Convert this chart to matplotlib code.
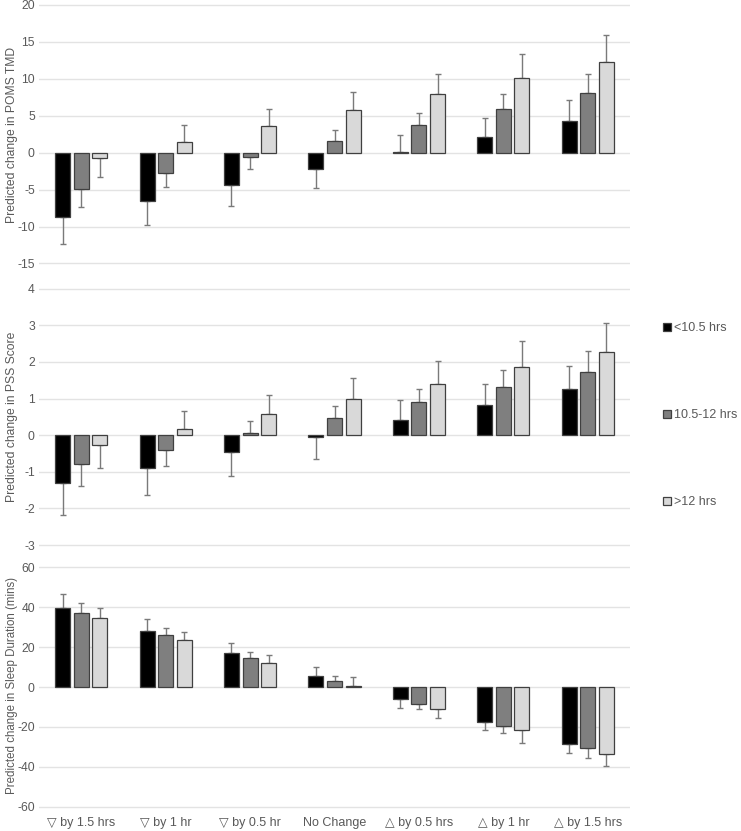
import numpy as np
import matplotlib
matplotlib.use("Agg")
import matplotlib.pyplot as plt
from matplotlib.patches import Patch

plt.rcParams['font.family'] = ['Liberation Sans', 'DejaVu Sans']
plt.rcParams['axes.unicode_minus'] = False

categories = ["\u25bd by 1.5 hrs", "\u25bd by 1 hr", "\u25bd by 0.5 hr", "No Change",
              "\u25b3 by 0.5 hrs", "\u25b3 by 1 hr", "\u25b3 by 1.5 hrs"]
series_names = ["<10.5 hrs", "10.5-12 hrs", ">12 hrs"]

# POMS TMD
poms_short = [-8.76, -6.55, -4.38, -2.26, 0.1, 2.17, 4.33]
poms_mid = [-4.92, -2.75, -0.54, 1.58, 3.79, 5.96, 8.13]
poms_long = [-0.72, 1.49, 3.66, 5.82, 7.95, 10.11, 12.33]
poms_short_err = [3.61, 3.25, 2.80, 2.48, 2.29, 2.57, 2.76]
poms_mid_err = [2.39, 1.85, 1.63, 1.54, 1.58, 2.03, 2.57]
poms_long_err = [2.53, 2.30, 2.30, 2.44, 2.75, 3.19, 3.57]

# PSS
pss_short = [-1.31, -0.89, -0.47, -0.04, 0.41, 0.82, 1.26]
pss_mid = [-0.80, -0.40, 0.055, 0.46, 0.90, 1.31, 1.74]
pss_long = [-0.28, 0.16, 0.57, 1.00, 1.41, 1.85, 2.27]
pss_short_err = [0.87, 0.74, 0.64, 0.61, 0.54, 0.57, 0.62]
pss_mid_err = [0.58, 0.44, 0.335, 0.33, 0.35, 0.47, 0.55]
pss_long_err = [0.61, 0.51, 0.52, 0.55, 0.63, 0.71, 0.80]

# Sleep duration (mins)
sleep_short = [39.8, 28.1, 17.2, 5.7, -6.0, -17.5, -28.4]
sleep_mid = [37.3, 26.1, 14.5, 3.0, -8.3, -19.4, -30.7]
sleep_long = [34.8, 23.6, 12.0, 0.7, -11.0, -21.8, -33.4]
sleep_short_err = [6.8, 6.2, 4.9, 4.3, 4.5, 4.3, 4.8]
sleep_mid_err = [5.0, 3.7, 3.0, 2.5, 2.5, 3.5, 4.7]
sleep_long_err = [5.0, 4.0, 4.2, 4.3, 4.3, 6.1, 6.3]

poms_ticks = [-15, -10, -5, 0, 5, 10, 15, 20]
pss_ticks = [-3, -2, -1, 0, 1, 2, 3, 4]
sleep_ticks = [-60, -40, -20, 0, 20, 40, 60]

colors = ["#000000", "#7f7f7f", "#d9d9d9"]
edge = "#404040"
W, H = 741, 831
fig = plt.figure(figsize=(W / 100, H / 100), dpi=100)

left = 39 / W
width = 591 / W
fs = 8.7
tick_col = "#595959"


def make_axes(top_px, bot_px):
    return fig.add_axes([left, 1 - bot_px / H, width, (bot_px - top_px) / H])


panels = [
    dict(top=3, bot=280, ylim=(-17.24, 20.27), ticks=poms_ticks,
         vals=[poms_short, poms_mid, poms_long],
         errs=[poms_short_err, poms_mid_err, poms_long_err],
         label="Predicted change in POMS TMD", ly=0.523, lfs=fs),
    dict(top=284, bot=552, ylim=(-3.19, 4.13), ticks=pss_ticks,
         vals=[pss_short, pss_mid, pss_long],
         errs=[pss_short_err, pss_mid_err, pss_long_err],
         label="Predicted change in PSS Score", ly=0.504, lfs=fs),
    dict(top=562, bot=810, ylim=(-61.65, 62.66), ticks=sleep_ticks,
         vals=[sleep_short, sleep_mid, sleep_long],
         errs=[sleep_short_err, sleep_mid_err, sleep_long_err],
         label="Predicted change in Sleep Duration (mins)", ly=0.5, lfs=8.3),
]

x = np.arange(len(categories))
offsets = [-0.22, 0.0, 0.22]
bw = 0.178

for i, p in enumerate(panels):
    ax = make_axes(p["top"], p["bot"])
    ax.set_xlim(-0.5, len(categories) - 0.5)
    ax.set_ylim(*p["ylim"])
    ax.set_yticks(p["ticks"])
    ax.grid(axis="y", color="#e3e3e3", linewidth=1.0, zorder=0)
    ax.set_axisbelow(True)
    for s in ax.spines.values():
        s.set_visible(False)
    ax.tick_params(axis="both", length=0, labelsize=fs, labelcolor=tick_col, pad=3)
    for j in range(3):
        v = np.array(p["vals"][j])
        e = np.array(p["errs"][j])
        ax.bar(x + offsets[j], v, width=bw, color=colors[j], edgecolor=edge,
               linewidth=0.9, zorder=3)
        lo = np.where(v < 0, e, 0)
        hi = np.where(v >= 0, e, 0)
        ax.errorbar(x + offsets[j], v, yerr=[lo, hi], fmt="none",
                    ecolor="#7a7a7a", elinewidth=1.0, capsize=2.5, capthick=1.0,
                    zorder=2)
    ax.set_ylabel(p["label"], fontsize=p["lfs"], color=tick_col)
    ax.yaxis.set_label_coords(-0.036, p["ly"])
    if i == 2:
        ax.set_xticks(x)
        ax.set_xticklabels(categories, fontsize=fs + 0.3, color=tick_col)
        ax.tick_params(axis="x", pad=5)
    else:
        ax.set_xticks([])

handles = [Patch(facecolor=c, edgecolor=edge, linewidth=0.9) for c in colors]
fig.legend(handles, series_names, loc="center left",
           bbox_to_anchor=(663 / W, 1 - 415 / H), frameon=False,
           fontsize=fs + 0.3, labelcolor=tick_col, handlelength=0.6,
           handleheight=0.6, handletextpad=0.25, labelspacing=6.0,
           borderpad=0, borderaxespad=0)

fig.savefig("out.png", dpi=100)
